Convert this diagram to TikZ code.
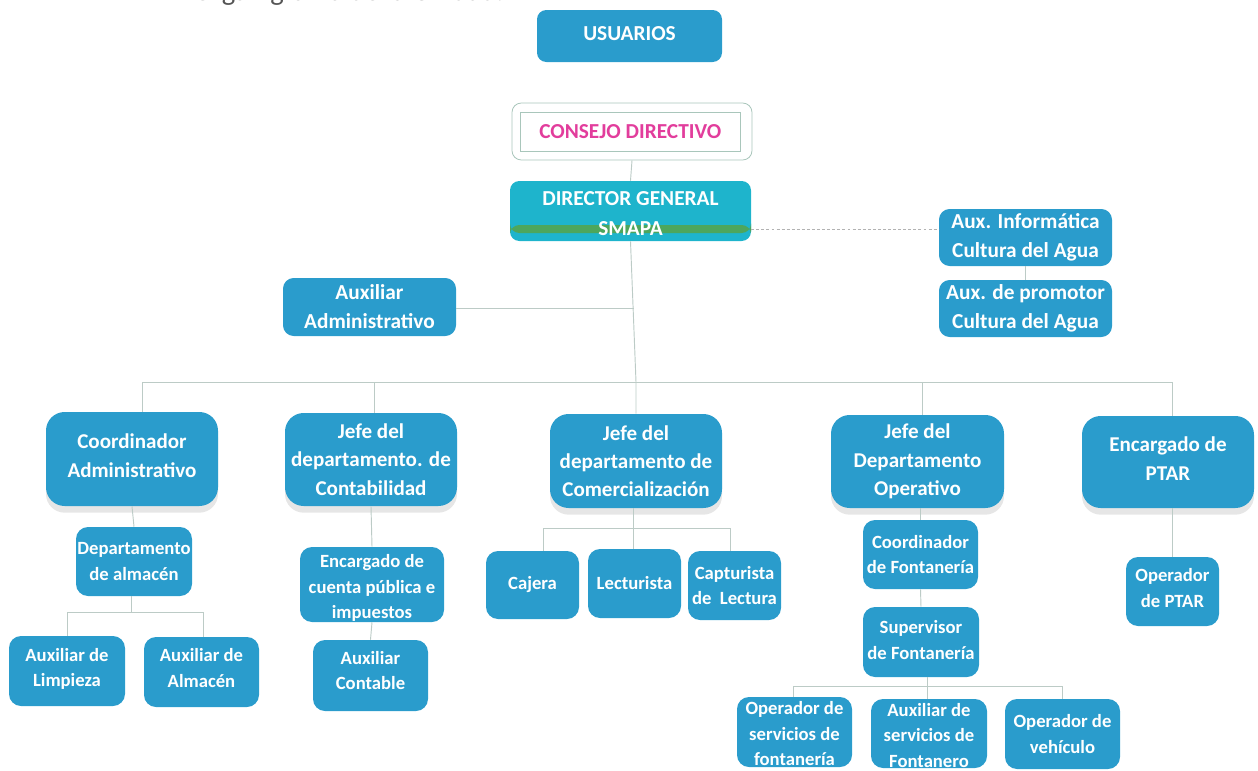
\documentclass[tikz,border=0pt]{standalone}
\usepackage{fontspec}
\setmainfont{Carlito}
\usetikzlibrary{shadows,calc}
\definecolor{boxblue}{HTML}{2A9CCC}
\definecolor{dirteal}{HTML}{1EB4CC}
\definecolor{dirgreen}{HTML}{4DA65C}
\definecolor{linegrey}{HTML}{BCCBC6}
\definecolor{framegrey}{HTML}{A9C6BB}
\definecolor{pinktext}{HTML}{E23D9C}
\definecolor{headgrey}{HTML}{555555}
\tikzset{
  orgbox/.style={rounded corners=9pt, fill=boxblue, text=white, align=center, inner sep=0pt, font=\bfseries\fontsize{14}{19.3}\selectfont},
  midbox/.style={orgbox, rounded corners=8pt, font=\bfseries\fontsize{16}{21.7}\selectfont},
  bigbox/.style={orgbox, rounded corners=14pt, font=\bfseries\fontsize{15.8}{21.2}\selectfont,
     drop shadow={shadow xshift=0pt, shadow yshift=-5pt, opacity=.22, fill=black!45}},
  topbox/.style={orgbox, rounded corners=7pt, font=\bfseries\fontsize{16}{22.5}\selectfont},
  dirbox/.style={topbox, fill=dirteal,
     path picture={\fill[dirgreen] ($(path picture bounding box.south west)+(0,6pt)$) rectangle ($(path picture bounding box.south east)+(0,12pt)$);}},
  frameout/.style={draw=framegrey, line width=.6pt, rounded corners=7pt, fill=white},
  framein/.style={draw=framegrey, line width=.7pt, fill=white, text=pinktext, inner sep=0pt, font=\bfseries\fontsize{16}{18}\selectfont},
  conn/.style={draw=linegrey, line width=.7pt},
  dotconn/.style={draw=black!30, line width=.7pt, dash pattern=on 2.2pt off 1.6pt},
  heading/.style={text=headgrey, inner sep=0pt, anchor=base east, font=\fontsize{21.5}{24}\selectfont}
}
% \bx[style]{name}{x0}{y0}{x1}{y1}{text}
\newcommand{\bx}[7][orgbox]{\node[#1, minimum width={(#5-#3)*0.75pt}, minimum height={(#6-#4)*0.75pt}] (#2) at ({(#3+#5)/2},{(#4+#6)/2}) {#7};}
% \tshift{dy}{lines}: text block moved up by dy inside its box, without changing the box size
\newcommand{\tshift}[2]{\raisebox{#1}[0pt][0pt]{\begin{tabular}{@{}c@{}}#2\end{tabular}}}
\begin{document}
\begin{tikzpicture}[x=0.75pt,y=-0.75pt]
\useasboundingbox (0,0) rectangle (1258,771);
\clip (0,0) rectangle (1258,771);
\node[heading] (head) at (504,0) {Organigrama de la Unidad.};

\bx[topbox]{usuarios}{537}{10}{722}{62}{\tshift{-3pt}{USUARIOS}}
\bx[frameout]{consejo}{512}{103}{752}{160}{}
\bx[framein]{consejoin}{520.5}{112}{740}{151}{CONSEJO DIRECTIVO}
\bx[dirbox]{director}{510}{181}{751}{241}{\tshift{-6.75pt}{DIRECTOR GENERAL\\SMAPA}}
\bx[midbox]{auxadm}{283}{278}{456}{336}{Auxiliar\\Administrativo}
\bx[midbox]{auxinfo}{939}{209}{1112}{266}{Aux. Informática\\Cultura del Agua}
\bx[midbox]{auxprom}{939}{280}{1112}{337}{Aux. de promotor\\Cultura del Agua}

\bx[bigbox]{coordadm}{46}{412}{218}{506}{\tshift{-2.3pt}{Coordinador\\Administrativo}}
\bx[bigbox]{jefecont}{285}{413}{457}{506}{Jefe del\\departamento. de\\Contabilidad}
\bx[bigbox]{jefecom}{550}{414}{722}{508}{Jefe del\\departamento de\\Comercialización}
\bx[bigbox]{jefeop}{831}{415}{1004}{508}{Jefe del\\Departamento\\Operativo}
\bx[bigbox]{encptar}{1082}{416}{1254}{508}{\tshift{-2.3pt}{Encargado de\\PTAR}}

\bx{depto}{76}{527}{192}{596}{Departamento\\de almacén}
\bx{limpieza}{9}{636}{125}{706}{\tshift{-1.9pt}{Auxiliar de\\Limpieza}}
\bx{almacen}{144}{637}{259}{707}{\tshift{-1.5pt}{Auxiliar de\\Almacén}}
\bx{cuenta}{300}{547}{444}{622}{\tshift{-6.3pt}{Encargado de\\cuenta pública e\\impuestos}}
\bx{contable}{313}{640}{428}{711}{\tshift{-0.8pt}{Auxiliar\\Contable}}
\bx{cajera}{486}{551}{579}{619}{Cajera}
\bx{lecturista}{588}{549}{681}{618}{Lecturista}
\bx{capturista}{688}{551}{781}{620}{Capturista\\de~~Lectura}
\bx{coordfon}{863}{520}{978}{589}{Coordinador\\de Fontanería}
\bx{superfon}{863}{607}{979}{677}{\tshift{-3pt}{Supervisor\\de Fontanería}}
\bx{opserv}{737}{697}{852}{767}{\tshift{-5.8pt}{Operador de\\servicios de\\fontanería}}
\bx{auxserv}{871}{699}{987}{768}{\tshift{-6pt}{Auxiliar de\\servicios de\\Fontanero}}
\bx{opveh}{1005}{699}{1120}{769}{Operador de\\vehículo}
\bx{opptar}{1126}{557}{1219}{626}{\tshift{-1.9pt}{Operador\\de PTAR}}

\coordinate (busC) at (636,382);
\coordinate (busL) at (142,382);
\coordinate (busR) at (1172,382);
\coordinate (busA) at (374,382);
\coordinate (busO) at (922,382);
\coordinate (admT) at (634,308);
\coordinate (almT) at (131,612);
\coordinate (almL) at (67,612);
\coordinate (almR) at (203,612);
\coordinate (comT) at (633,528);
\coordinate (comL) at (543,528);
\coordinate (comR) at (730,528);
\coordinate (supT) at (927,686);
\coordinate (supL) at (793,686);
\coordinate (supR) at (1062,686);

\draw[conn] (consejo.south) -- (director.north);
\draw[conn] (director.south) -- (busC) -- (jefecom.north -| busC);
\draw[conn] (auxadm.east |- admT) -- (admT);
\draw[dotconn] (director.east |- 0,229) -- (auxinfo.west |- 0,229);
\draw[conn] (auxinfo.south) -- (auxprom.north);
\draw[conn] (busL) -- (busR);
\draw[conn] (busL) -- (coordadm.north -| busL);
\draw[conn] (busA) -- (jefecont.north -| busA);
\draw[conn] (busO) -- (jefeop.north -| busO);
\draw[conn] (busR) -- (encptar.north -| busR);
\draw[conn] (coordadm.south) -- (depto.north);
\draw[conn] (depto.south -| almT) -- (almT);
\draw[conn] (almL) -- (almR);
\draw[conn] (almL) -- (limpieza.north -| almL);
\draw[conn] (almR) -- (almacen.north -| almR);
\draw[conn] (jefecont.south) -- (cuenta.north);
\draw[conn] (cuenta.south) -- (contable.north);
\draw[conn] (jefecom.south -| comT) -- (lecturista.north -| comT);
\draw[conn] (comL) -- (comR);
\draw[conn] (comL) -- (cajera.north -| comL);
\draw[conn] (comR) -- (capturista.north -| comR);
\draw[conn] (jefeop.south -| coordfon.north) -- (coordfon.north);
\draw[conn] (coordfon.south) -- (superfon.north);
\draw[conn] (superfon.south -| supT) -- (auxserv.north -| supT);
\draw[conn] (supL) -- (supR);
\draw[conn] (supL) -- (opserv.north -| supL);
\draw[conn] (supR) -- (opveh.north -| supR);
\draw[conn] (encptar.south -| opptar.north) -- (opptar.north);
\end{tikzpicture}
\end{document}
